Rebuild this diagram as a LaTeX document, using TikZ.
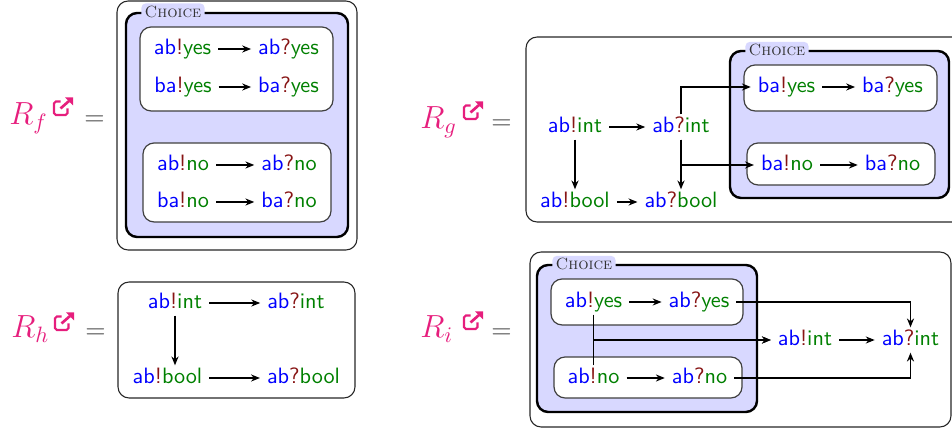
\documentclass[tikz,border=0pt]{standalone}
\usetikzlibrary{arrows.meta}
\definecolor{cblue}{RGB}{0,0,255}
\definecolor{cgreen}{RGB}{0,128,0}
\definecolor{cred}{RGB}{135,20,20}
\definecolor{cpink}{RGB}{230,30,125}
\definecolor{cfill}{RGB}{216,216,255}
\newcommand\msnd[2]{\textcolor{cblue}{#1}\textcolor{cred}{!}\textcolor{cgreen}{#2}}
\newcommand\mrcv[2]{\textcolor{cblue}{#1}\textcolor{cred}{?}\textcolor{cgreen}{#2}}
\newcommand\exticon[1]{%
  \begin{scope}[shift={#1}]
    \draw[cpink, line width=0.95pt, rounded corners=0.8pt] (7.5,3.5) -- (1,3.5) -- (1,17) -- (14.5,17) -- (14.5,10.5);
    \draw[cpink, line width=1.2pt] (7.5,10.5) -- (16,3);
    \fill[cpink] (20,-0.5) -- (12,-0.5) -- (20,7.5) -- cycle;
  \end{scope}}
\begin{document}
\begin{tikzpicture}[x=0.45pt,y=-0.45pt,
  ev/.style={font=\sffamily, inner xsep=3pt, inner ysep=1pt, text height=7pt, text depth=2pt},
  arr/.style={-{Stealth[length=4pt,width=3.2pt]}, line width=0.55pt},
  outerbox/.style={draw=black!85, line width=0.5pt, rounded corners=5pt},
  choicebox/.style={draw=black, line width=1.1pt, fill=cfill, rounded corners=5pt},
  innerbox/.style={draw=black!75, line width=0.55pt, fill=white, rounded corners=5pt},
  choicelbl/.style={fill=cfill, rounded corners=2pt, inner xsep=1.5pt, inner ysep=1pt,
     font=\fontsize{7.3}{8}\selectfont\scshape, text=black!80},
  mlbl/.style={font=\Large, text=cpink, inner sep=0pt, anchor=base west},
  meq/.style={font=\large, text=black!75, inner sep=0pt, anchor=base west}]
\useasboundingbox (0,0) rectangle (952,432);

% ---------- R_f ----------
\node[mlbl] (lf) at (9,125) {$R_f$};
\exticon{(53,98)}
\node[meq] (eqf) at (84,126) {$=$};
\draw[outerbox] (117,1) rectangle (357,250);
\draw[choicebox] (126,13) rectangle (348,237);
\draw[innerbox] (140,27) rectangle (333,111);
\draw[innerbox] (143,143) rectangle (331,222);
\node[choicelbl] (cf) at (173,11.5) {Choice};
\node[ev] (fa1) at (182.5,49) {\msnd{ab}{yes}};
\node[ev] (fa2) at (288.5,49) {\mrcv{ab}{yes}};
\node[ev] (fb1) at (183,87) {\msnd{ba}{yes}};
\node[ev] (fb2) at (288.5,87) {\mrcv{ba}{yes}};
\node[ev] (fc1) at (183,165) {\msnd{ab}{no}};
\node[ev] (fc2) at (289,165) {\mrcv{ab}{no}};
\node[ev] (fd1) at (183,202) {\msnd{ba}{no}};
\node[ev] (fd2) at (289,202) {\mrcv{ba}{no}};
\draw[arr] (fa1) -- (fa2);
\draw[arr] (fb1) -- (fb2);
\draw[arr] (fc1) -- (fc2);
\draw[arr] (fd1) -- (fd2);

% ---------- R_g ----------
\node[mlbl] (lg) at (420,129) {$R_g$};
\exticon{(463,102)}
\node[meq] (eqg) at (491,130) {$=$};
\draw[outerbox] (526,37) rectangle (975,222);
\draw[choicebox] (730,51) rectangle (949,198);
\draw[innerbox] (744,65) rectangle (937,111);
\draw[innerbox] (747,143) rectangle (935,185);
\node[choicelbl] (cg) at (777,50) {Choice};
\node[ev] (gi1) at (575,127) {\msnd{ab}{int}};
\node[ev] (gi2) at (681,127) {\mrcv{ab}{int}};
\node[ev] (gb1) at (575,202) {\msnd{ab}{bool}};
\node[ev] (gb2) at (681,202) {\mrcv{ab}{bool}};
\node[ev] (gy1) at (786.5,87) {\msnd{ba}{yes}};
\node[ev] (gy2) at (892.5,87) {\mrcv{ba}{yes}};
\node[ev] (gn1) at (787,165) {\msnd{ba}{no}};
\node[ev] (gn2) at (892.5,165) {\mrcv{ba}{no}};
\draw[arr] (gi1) -- (gi2);
\draw[arr] (gb1) -- (gb2);
\draw[arr] (gi1.south) -- (gi1.south |- gb1.north);
\draw[arr] (gi2.south) -- (gi2.south |- gb2.north);
\draw[arr] (gi2.north) |- (gy1.west);
\draw[arr] (gi2.south) |- (gn1.west);
\draw[arr] (gy1) -- (gy2);
\draw[arr] (gn1) -- (gn2);

% ---------- R_h ----------
\node[mlbl] (lh) at (11,338) {$R_h$};
\exticon{(54,313)}
\node[meq] (eqh) at (85,338.5) {$=$};
\draw[outerbox] (118,282) rectangle (355,398);
\node[ev] (hi1) at (175,303) {\msnd{ab}{int}};
\node[ev] (hi2) at (296,303) {\mrcv{ab}{int}};
\node[ev] (hb1) at (167.5,378) {\msnd{ab}{bool}};
\node[ev] (hb2) at (303.5,378) {\mrcv{ab}{bool}};
\draw[arr] (hi1) -- (hi2);
\draw[arr] (hb1) -- (hb2);
\draw[arr] (hi1.south) -- (hi1.south |- hb1.north);

% ---------- R_i ----------
\node[mlbl] (li) at (420,338) {$R_i$};
\exticon{(463,312)}
\node[meq] (eqi) at (491,338.5) {$=$};
\draw[outerbox] (530,252) rectangle (951,427);
\draw[choicebox] (537,265) rectangle (757,412);
\draw[innerbox] (551,279) rectangle (743,325);
\draw[innerbox] (554,357) rectangle (742,398);
\node[choicelbl] (ci) at (584,264) {Choice};
\node[ev] (iy1) at (593.5,302) {\msnd{ab}{yes}};
\node[ev] (iy2) at (699,302) {\mrcv{ab}{yes}};
\node[ev] (in1) at (593.5,378) {\msnd{ab}{no}};
\node[ev] (in2) at (699.5,378) {\mrcv{ab}{no}};
\node[ev] (ii1) at (805,340) {\msnd{ab}{int}};
\node[ev] (ii2) at (910.5,340) {\mrcv{ab}{int}};
\draw[arr] (iy1) -- (iy2);
\draw[arr] (in1) -- (in2);
\draw[arr] (ii1) -- (ii2);
\draw[arr] (iy1.south) |- (ii1.west);
\draw[arr] (in1.north) |- (ii1.west);
\draw[arr] (iy2.east) -| (ii2.north);
\draw[arr] (in2.east) -| (ii2.south);
\end{tikzpicture}
\end{document}
